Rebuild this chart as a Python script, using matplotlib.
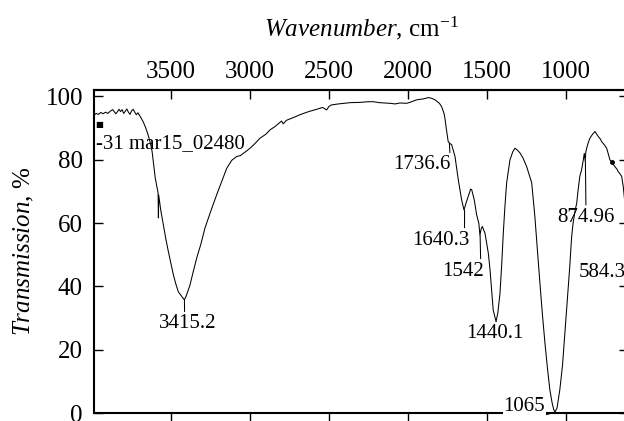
import numpy as np
import matplotlib
matplotlib.use("Agg")
import matplotlib.pyplot as plt

plt.rcParams['font.family'] = ['Liberation Serif', 'DejaVu Serif']
plt.rcParams['mathtext.fontset'] = 'custom'
plt.rcParams['mathtext.rm'] = 'Liberation Serif'
plt.rcParams['mathtext.it'] = 'Liberation Serif:italic'

# ---- data ----
wavenumber = [3988, 3975, 3960, 3945, 3930, 3915, 3900, 3885, 3870, 3860, 3850, 3840,
              3830, 3820, 3810, 3800, 3790, 3780, 3770, 3760, 3750, 3740, 3730, 3720,
              3710, 3700, 3690, 3675, 3660, 3645, 3630, 3620, 3610, 3600, 3590, 3582,
              3580, 3578, 3565, 3549, 3533, 3517, 3500, 3485, 3470, 3454, 3435, 3420,
              3415, 3405, 3395, 3380, 3360, 3337, 3310, 3285, 3250, 3211, 3180, 3147,
              3115, 3084, 3060, 3042, 3020, 3000, 2970, 2936, 2900, 2873, 2840, 2800,
              2789, 2770, 2740, 2710, 2683, 2650, 2620, 2577, 2540, 2514, 2500, 2482,
              2440, 2400, 2366, 2300, 2250, 2218, 2180, 2150, 2113, 2080, 2050, 2007,
              1975, 1944, 1900, 1870, 1850, 1828, 1800, 1786, 1770, 1765, 1755, 1744,
              1735, 1722, 1701, 1680, 1659, 1644, 1630, 1617, 1602, 1595, 1579, 1564,
              1550, 1543, 1536, 1528, 1511, 1490, 1479, 1468, 1459, 1441, 1430, 1416,
              1405, 1395, 1385, 1374, 1353, 1335, 1321, 1305, 1289, 1270, 1247, 1215,
              1195, 1180, 1163, 1147, 1131, 1115, 1100, 1085, 1075, 1068, 1055, 1037,
              1020, 1005, 990, 974, 962, 953, 940, 930, 921, 910, 899, 888,
              882, 876, 872, 867, 856, 846, 830, 814, 803, 793, 780, 772,
              755, 740, 725, 719, 709, 698, 688, 675, 667, 655, 645, 635,
              620, 600, 584]
transmission = [94.0, 94.6, 94.3, 94.9, 94.5, 95.0, 94.6, 95.3, 95.8, 95.2, 94.5, 95.1,
                95.9, 95.2, 95.8, 94.6, 95.3, 96.0, 95.0, 94.3, 95.4, 95.9, 95.0, 94.2,
                94.8, 94.0, 93.2, 91.8, 90.0, 87.8, 85.0, 82.6, 78.5, 74.2, 71.5, 69.5,
                61.6, 68.8, 64.0, 59.4, 55.0, 51.0, 47.0, 43.6, 40.8, 38.3, 37.0, 36.0,
                35.8, 36.8, 38.2, 40.4, 44.5, 49.0, 53.5, 58.4, 63.5, 68.9, 73.0, 77.3,
                79.8, 81.0, 81.3, 82.0, 82.8, 83.6, 85.0, 86.8, 88.0, 89.4, 90.5, 92.2,
                91.3, 92.4, 93.0, 93.6, 94.2, 94.8, 95.3, 95.9, 96.5, 95.7, 96.8, 97.3,
                97.6, 97.8, 98.0, 98.1, 98.3, 98.3, 98.0, 97.9, 97.8, 97.6, 97.9, 97.8,
                98.3, 98.9, 99.2, 99.6, 99.4, 98.9, 97.8, 96.8, 94.5, 93.1, 89.4, 85.7,
                85.2, 84.7, 81.0, 73.6, 67.3, 64.1, 66.5, 68.4, 70.7, 70.5, 67.3, 62.6,
                59.9, 56.2, 58.0, 58.9, 56.8, 50.5, 45.2, 38.0, 32.5, 28.9, 31.5, 37.8,
                47.0, 56.8, 65.0, 72.6, 79.9, 82.5, 83.6, 83.0, 82.1, 80.5, 77.8, 72.7,
                62.0, 52.0, 41.0, 31.0, 22.0, 14.0, 7.3, 3.0, 1.0, 0.3, 1.5, 7.3,
                15.0, 25.3, 35.5, 46.2, 55.7, 59.9, 64.0, 66.2, 70.5, 74.8, 76.8, 80.0,
                82.0, 79.5, 82.5, 83.6, 85.5, 86.8, 88.0, 88.9, 88.0, 87.3, 86.5, 85.7,
                84.7, 83.6, 81.0, 79.9, 79.4, 78.5, 77.8, 77.0, 76.2, 75.5, 74.7, 71.5,
                64.0, 55.0, 50.0]

peak_labels = ["3415.2", "1736.6", "1640.3", "1542", "1440.1", "1065", "874.96", "584.3"]
peak_wn = [3415.2, 1736.6, 1640.3, 1542, 1440.1, 1065, 874.96, 584.3]
peak_T = [35.8, 85.2, 64.1, 56.2, 28.9, 0.3, 79.5, 50.0]
marker_wn = [709]
sample_name = "-31 mar15_02480"

x_ticks = [3500, 3000, 2500, 2000, 1500, 1000]
y_ticks = [0, 20, 40, 60, 80, 100]

# ---- figure ----
fig = plt.figure(figsize=(6.24, 4.21), dpi=100)
ax = fig.add_axes([94/624, 8/421, 534/624, 323/421])

ax.plot(wavenumber, transmission, color='black', lw=0.75)
ax.plot(marker_wn, np.interp(marker_wn, wavenumber[::-1], transmission[::-1]),
        'o', color='black', ms=2.5)

ax.set_xlim(3988, 605)
ax.set_ylim(0, 102)

for s in ax.spines.values():
    s.set_linewidth(1.5)

ax.set_xticks(x_ticks)
ax.tick_params(axis='x', direction='out', bottom=True, top=False,
               labelbottom=False, length=6.5, width=1.0)
ax.set_yticks(y_ticks)
ax.tick_params(axis='y', direction='in', left=True, right=True, labelleft=True,
               labelright=False, length=6.5, width=1.0, labelsize=18, pad=8)

sec = ax.secondary_xaxis('top')
sec.set_xticks(x_ticks)
sec.tick_params(direction='in', length=6.5, width=1.0, labelsize=18, pad=5)
sec.spines['top'].set_linewidth(1.5)
sec.set_xlabel(r"$\mathit{Wavenumber}$, cm$^{-1}$", fontsize=18, labelpad=18)

ax.set_ylabel(r"$\mathit{Transmission}$, %", fontsize=18, labelpad=7)

# sample name and small icon
ax.text(0.003, 0.833, sample_name, transform=ax.transAxes, fontsize=15,
        ha='left', va='center')
ax.text(0.002, 0.893, "\u25a0", transform=ax.transAxes, fontsize=6,
        ha='left', va='center', family='DejaVu Sans')

# peak annotations: (offset in points, ha, va, relpos)
ann_style = {
    "3415.2": ((2.2, -17.5), 'center', 'center', (0.45, 1.0)),
    "1736.6": ((-19.5, -15.6), 'center', 'center', (1.0, 0.1)),
    "1640.3": ((-17.0, -21.6), 'center', 'center', (0.91, 1.0)),
    "1542":   ((-12.2, -25.9), 'center', 'center', (0.92, 1.0)),
    "1440.1": ((-0.7, -9.0), 'center', 'center', (0.5, 1.0)),
    "1065":   ((-22.3, 4.3), 'center', 'center', (0.95, 0.0)),
    "874.96": ((0.4, -40.3), 'center', 'center', (0.5, 1.0)),
    "584.3":  ((-37.7, -12.5), 'left', 'center', (0.0, 0.5)),
}
for lab, wn, t in zip(peak_labels, peak_wn, peak_T):
    off, ha, va, rp = ann_style[lab]
    kw = {}
    if lab == "1065":
        kw['bbox'] = dict(boxstyle='square,pad=0.05', fc='white', ec='none')
    arrow = None if lab == "584.3" else dict(arrowstyle='-', lw=0.75, color='black',
                                                shrinkA=0, shrinkB=0, relpos=rp)
    ax.annotate(lab, xy=(wn, t), xytext=off, textcoords='offset points',
                ha=ha, va=va, fontsize=15, arrowprops=arrow,
                annotation_clip=False, zorder=5, **kw)

fig.savefig("out.png", dpi=100)
